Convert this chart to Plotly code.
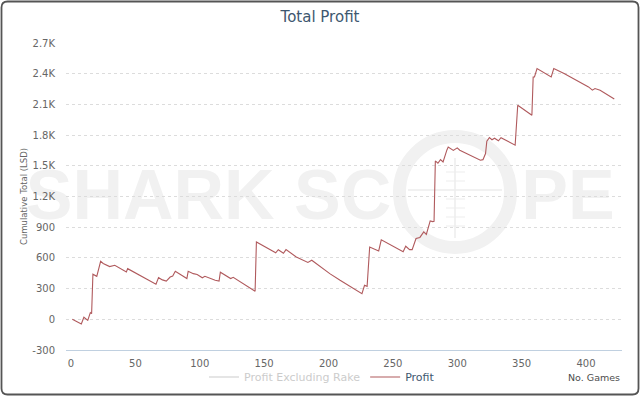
import plotly.graph_objects as go

# ---------------- data ----------------
games = [1, 8, 10, 13, 15, 16, 17, 20, 23, 25, 30, 34, 43, 44, 66, 68, 71, 74, 77, 79,
         81, 90, 91, 95, 98, 102, 104, 109, 112, 115, 116, 124, 126, 143, 144, 159, 161,
         165, 167, 175, 184, 187, 193, 201, 209, 226, 228, 230, 232, 239, 241, 258, 260,
         263, 265, 268, 271, 274, 276, 279, 281, 282, 283, 285, 287, 289, 292, 293, 297,
         300, 302, 318, 320, 322, 323, 325, 327, 329, 332, 334, 345, 347, 358, 359, 360,
         362, 373, 375, 383, 393, 402, 405, 407, 411, 422]
profit = [0, -45, 20, -10, 65, 55, 440, 420, 567, 545, 515, 528, 462, 495, 342, 407, 385,
          374, 413, 423, 469, 398, 469, 446, 438, 406, 420, 391, 381, 374, 460, 398, 410,
          275, 756, 650, 680, 645, 681, 609, 556, 577, 520, 446, 381, 251, 332, 322, 707,
          668, 776, 660, 714, 681, 681, 789, 800, 854, 830, 961, 955, 958, 1548, 1525, 1561,
          1538, 1655, 1684, 1650, 1675, 1652, 1554, 1560, 1620, 1740, 1775, 1755, 1770,
          1745, 1775, 1701, 2092, 1994, 2368, 2368, 2450, 2368, 2450, 2401, 2336, 2271,
          2239, 2255, 2239, 2152]

y_tickvals = [-300, 0, 300, 600, 900, 1200, 1500, 1800, 2100, 2400, 2700]
y_ticktext = ["-300", "0", "300", "600", "900", "1.2K", "1.5K", "1.8K", "2.1K", "2.4K", "2.7K"]
x_tickvals = [0, 50, 100, 150, 200, 250, 300, 350, 400]

# ---------------- layout helpers ----------------
W, H = 640, 397
L, R, T, B = 66, 622, 43, 350
PW, PH = R - L, B - T


def xp(px):
    return (px - L) / PW


def yp(py):
    return (B - py) / PH


FONT = "DejaVu Sans"
WM = "#f1f1f1"

fig = go.Figure()
fig.add_trace(go.Scatter(
    x=[None], y=[None], mode="lines", visible="legendonly",
    name="<span style='color:#999999'>Profit Excluding Rake</span>",
    line=dict(color="#999999", width=1),
))
fig.add_trace(go.Scatter(
    x=games, y=profit, mode="lines", name="Profit",
    line=dict(color="#b05a5d", width=1.1),
    hoverinfo="x+y",
))

shapes = []
# watermark text
shapes.append(dict(type="rect", xref="paper", yref="paper", layer="below",
                   x0=xp(20), x1=xp(397), y0=yp(215), y1=yp(160),
                   line=dict(width=0), fillcolor="rgba(0,0,0,0)",
                   label=dict(text="<b>SHARK SC</b>", textposition="middle center",
                              font=dict(family="Liberation Sans", size=70, color=WM))))
shapes.append(dict(type="rect", xref="paper", yref="paper", layer="below",
                   x0=xp(518), x1=xp(618), y0=yp(215), y1=yp(160),
                   line=dict(width=0), fillcolor="rgba(0,0,0,0)",
                   label=dict(text="<b>PE</b>", textposition="middle center",
                              font=dict(family="Liberation Sans", size=70, color=WM))))
# scope circle
cx, cy, rr = 455, 192, 55.5
shapes.append(dict(type="circle", xref="paper", yref="paper", layer="below",
                   x0=xp(cx - rr), x1=xp(cx + rr), y0=yp(cy + rr), y1=yp(cy - rr),
                   line=dict(color=WM, width=13)))
shapes.append(dict(type="line", xref="paper", yref="paper", layer="below",
                   x0=xp(cx), x1=xp(cx), y0=yp(158), y1=yp(238),
                   line=dict(color="#ececec", width=1.5)))
shapes.append(dict(type="line", xref="paper", yref="paper", layer="below",
                   x0=xp(408), x1=xp(502), y0=yp(190), y1=yp(190),
                   line=dict(color="#ececec", width=1.5)))
for ty in [172, 181, 199, 208, 217, 226]:
    shapes.append(dict(type="line", xref="paper", yref="paper", layer="below",
                       x0=xp(446), x1=xp(465), y0=yp(ty), y1=yp(ty),
                       line=dict(color="#ededed", width=1)))

# outer rounded border
bl, br, bt, bb, rad = 1.5, 638.5, 1.5, 394.5, 6
path = (f"M {xp(bl+rad)} {yp(bt)} L {xp(br-rad)} {yp(bt)} Q {xp(br)} {yp(bt)} {xp(br)} {yp(bt+rad)} "
        f"L {xp(br)} {yp(bb-rad)} Q {xp(br)} {yp(bb)} {xp(br-rad)} {yp(bb)} "
        f"L {xp(bl+rad)} {yp(bb)} Q {xp(bl)} {yp(bb)} {xp(bl)} {yp(bb-rad)} "
        f"L {xp(bl)} {yp(bt+rad)} Q {xp(bl)} {yp(bt)} {xp(bl+rad)} {yp(bt)} Z")
shapes.append(dict(type="path", xref="paper", yref="paper", path=path, layer="above",
                   line=dict(color="#555555", width=1.8)))

fig.update_layout(
    width=W, height=H,
    margin=dict(l=L, r=W - R, t=T, b=H - B, pad=0, autoexpand=False),
    paper_bgcolor="white", plot_bgcolor="rgba(0,0,0,0)",
    font=dict(family=FONT, size=10, color="#666666"),
    title=dict(text="Total Profit", x=0.5, xref="container", xanchor="center",
               y=1 - 17 / H, yref="container", yanchor="middle",
               font=dict(family=FONT, size=15, color="#3E576F")),
    showlegend=True,
    legend=dict(orientation="h", x=xp(322), xanchor="center", y=yp(377), yanchor="middle",
                font=dict(family=FONT, size=11, color="#3E576F"),
                bgcolor="rgba(0,0,0,0)", itemwidth=30, tracegroupgap=0),
    shapes=shapes,
    annotations=[dict(text="No. Games", xref="paper", yref="paper", x=1, xanchor="right",
                      y=yp(377), yanchor="middle", showarrow=False,
                      font=dict(family=FONT, size=9.5, color="#4d4d4d"))],
    hovermode="closest",
)

fig.update_xaxes(range=[-3.9, 428], tickvals=x_tickvals, showgrid=False, zeroline=False,
                 showline=True, linecolor="#C0D0E0", linewidth=1, automargin=False,
                 ticks="outside", ticklen=4, tickcolor="rgba(0,0,0,0)",
                 tickfont=dict(family=FONT, size=10, color="#666666"))
fig.update_yaxes(range=[-300, 2700], tickvals=y_tickvals, ticktext=y_ticktext,
                 showgrid=True, gridcolor="#dcdcdc", griddash="dot", gridwidth=1,
                 zeroline=False, showline=False, automargin=False,
                 ticks="outside", ticklen=8, tickcolor="rgba(0,0,0,0)",
                 tickfont=dict(family=FONT, size=10, color="#666666"),
                 title=dict(text="Cumulative Total (LSD)", standoff=3,
                            font=dict(family=FONT, size=8.5, color="#666666")))

fig.write_html("out.html", config={"displayModeBar": False},
               post_script="document.body.style.margin='0px';")
